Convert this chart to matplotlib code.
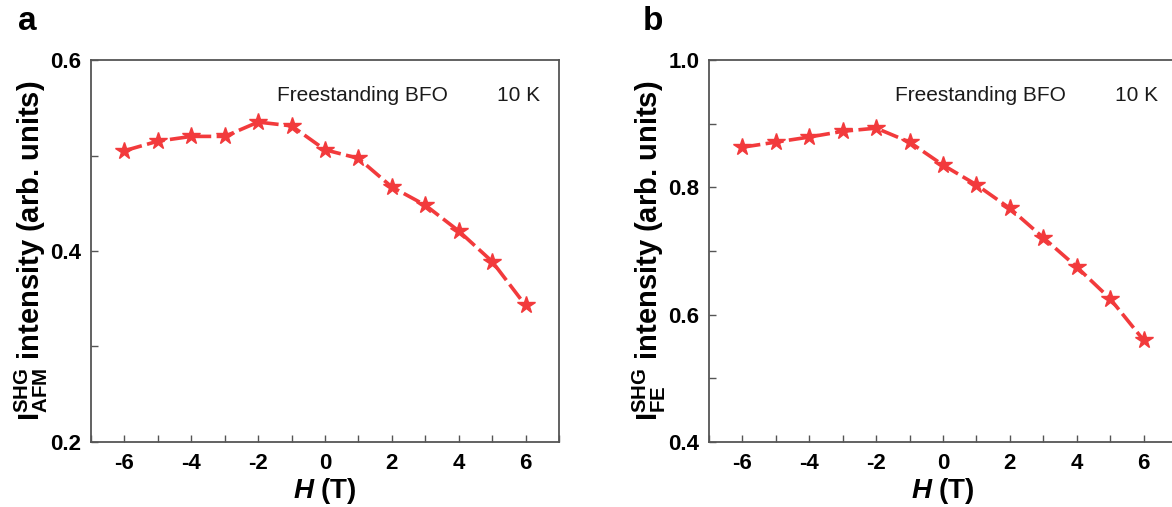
import matplotlib
matplotlib.use('Agg')
import matplotlib.pyplot as plt
from matplotlib.ticker import MultipleLocator

# --- data ---
field = [-6, -5, -4, -3, -2, -1, 0, 1, 2, 3, 4, 5, 6]
afm_int = [0.505, 0.515, 0.520, 0.520, 0.535, 0.531, 0.506, 0.497, 0.467, 0.448, 0.421, 0.389, 0.343]
fe_int = [0.863, 0.871, 0.879, 0.888, 0.893, 0.871, 0.835, 0.804, 0.767, 0.721, 0.675, 0.625, 0.560]

plt.rcParams['font.family'] = ['Liberation Sans', 'DejaVu Sans']
plt.rcParams['axes.unicode_minus'] = False
plt.rcParams['mathtext.fontset'] = 'custom'
plt.rcParams['mathtext.rm'] = 'Liberation Sans:bold'
plt.rcParams['mathtext.bf'] = 'Liberation Sans:bold'
plt.rcParams['mathtext.it'] = 'Liberation Sans:italic:bold'

W, H = 1172, 507
fig = plt.figure(figsize=(W / 100, H / 100), dpi=100)

red = '#F23A3C'
spine_col = '#555555'


def make_panel(x0, x1, y_top, y_bot, ys, ylim, ylabel, letter, lx):
    ax = fig.add_axes([x0 / W, 1 - y_bot / H, (x1 - x0) / W, (y_bot - y_top) / H])
    ax.plot(field, ys, ls=(0, (5, 1.5)), color=red, lw=2.6,
            marker='*', ms=13, mec=red, mfc=red, clip_on=False)
    ax.set_xlim(-7, 7)
    ax.set_ylim(*ylim)
    ax.xaxis.set_major_locator(MultipleLocator(2))
    ax.xaxis.set_minor_locator(MultipleLocator(1))
    ax.yaxis.set_major_locator(MultipleLocator(0.2))
    ax.yaxis.set_minor_locator(MultipleLocator(0.1))
    ax.tick_params(which='both', direction='in', length=5, width=1,
                   color=spine_col, labelsize=16)
    ax.tick_params(axis='x', pad=8)
    ax.tick_params(axis='y', pad=7)
    for lab in ax.get_xticklabels() + ax.get_yticklabels():
        lab.set_fontweight('bold')
    for s in ax.spines.values():
        s.set_color(spine_col)
        s.set_linewidth(1.3)
    ax.set_xlabel(r'$H$ (T)', fontsize=20, fontweight='bold', labelpad=1)
    ax.set_ylabel(ylabel, fontsize=21, fontweight='bold', labelpad=0)
    # annotation: two pieces with a wide gap, as in the original
    fig.text((x0 + 186) / W, 1 - 95 / H, 'Freestanding BFO', fontsize=15,
             ha='left', va='center', color='#1a1a1a')
    fig.text((x0 + 406) / W, 1 - 95 / H, '10 K', fontsize=15,
             ha='left', va='center', color='#1a1a1a')
    fig.text(lx / W, 1 - 22 / H, letter, fontsize=24, fontweight='bold',
             ha='left', va='center')
    return ax


make_panel(91, 559, 60, 442, afm_int, (0.2, 0.6),
           r'$\mathbf{I}^{\mathbf{SHG}}_{\mathbf{AFM}}$ intensity (arb. units)', 'a', 18)
make_panel(709, 1177, 60, 442, fe_int, (0.4, 1.0),
           r'$\mathbf{I}^{\mathbf{SHG}}_{\mathbf{FE}}$ intensity (arb. units)', 'b', 643)

fig.savefig('out.png', dpi=100)
